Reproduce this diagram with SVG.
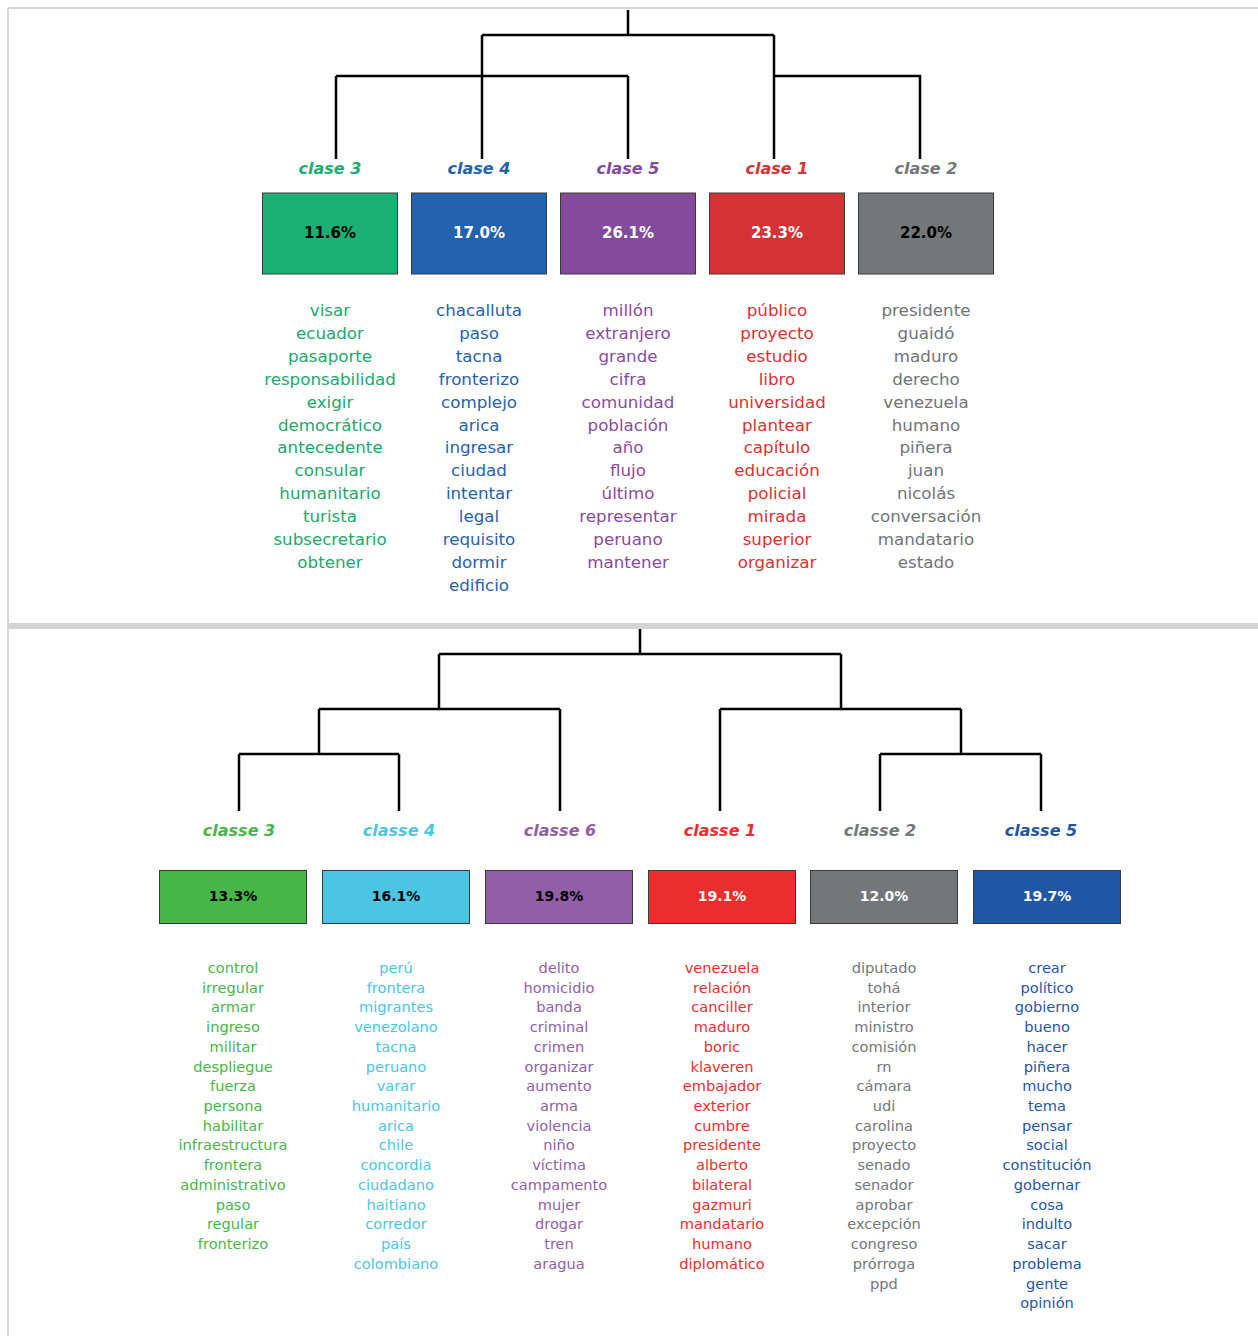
<svg xmlns="http://www.w3.org/2000/svg" width="1258" height="1336" viewBox="0 0 1258 1336">
<style>
.lbl{font-family:"DejaVu Sans",sans-serif;font-weight:bold;font-style:italic;font-size:16px;text-anchor:middle}
.pct{font-family:"DejaVu Sans",sans-serif;font-weight:bold;text-anchor:middle}
.pt{font-size:15px}
.pb{font-size:14px}
.w1{font-family:"DejaVu Sans",sans-serif;font-size:16.7px;text-anchor:middle}
.w2{font-family:"DejaVu Sans",sans-serif;font-size:14.6px;text-anchor:middle}
.box{stroke:#3a3a3a;stroke-width:1}
.con{fill:none;stroke:#000;stroke-width:2.5}
</style>
<rect x="0" y="0" width="1258" height="1336" fill="#fff"/>
<g id="frame">
<line x1="8" y1="8" x2="1258" y2="8" stroke="#c8c8c8" stroke-width="1.5"/>
<line x1="8" y1="8" x2="8" y2="1336" stroke="#c8c8c8" stroke-width="1.5"/>
<rect x="8" y="623" width="1250" height="6" fill="#d4d4d6"/>
</g>
<g id="connectors">
<path class="con" d="M628 10V35M482 35H774M482 35V159M774 35V159M336 76H628M336 76V159M628 76V159M774 76H920V159"/>
<path class="con" d="M640 629V654M439 654H841M439 654V709M841 654V709M319 709H560M319 709V754M560 709V811M239 754H399M239 754V811M399 754V811M720 709H961M720 709V811M961 709V754M880 754H1041M880 754V811M1041 754V811"/>
</g>
<g id="top-c3">
<text class="lbl" x="330" y="174" fill="#1aaf72">clase 3</text>
<rect class="box" x="262.5" y="193" width="135" height="81" fill="#1bb174"/>
<text class="pct pt" x="330" y="238" fill="#000">11.6%</text>
<text class="w1" fill="#1ba86c"><tspan x="330" y="316">visar</tspan><tspan x="330" dy="22.9">ecuador</tspan><tspan x="330" dy="22.9">pasaporte</tspan><tspan x="330" dy="22.9">responsabilidad</tspan><tspan x="330" dy="22.9">exigir</tspan><tspan x="330" dy="22.9">democrático</tspan><tspan x="330" dy="22.9">antecedente</tspan><tspan x="330" dy="22.9">consular</tspan><tspan x="330" dy="22.9">humanitario</tspan><tspan x="330" dy="22.9">turista</tspan><tspan x="330" dy="22.9">subsecretario</tspan><tspan x="330" dy="22.9">obtener</tspan></text>
</g>
<g id="top-c4">
<text class="lbl" x="479" y="174" fill="#2362ae">clase 4</text>
<rect class="box" x="411.5" y="193" width="135" height="81" fill="#2362ae"/>
<text class="pct pt" x="479" y="238" fill="#fff">17.0%</text>
<text class="w1" fill="#2462ae"><tspan x="479" y="316">chacalluta</tspan><tspan x="479" dy="22.9">paso</tspan><tspan x="479" dy="22.9">tacna</tspan><tspan x="479" dy="22.9">fronterizo</tspan><tspan x="479" dy="22.9">complejo</tspan><tspan x="479" dy="22.9">arica</tspan><tspan x="479" dy="22.9">ingresar</tspan><tspan x="479" dy="22.9">ciudad</tspan><tspan x="479" dy="22.9">intentar</tspan><tspan x="479" dy="22.9">legal</tspan><tspan x="479" dy="22.9">requisito</tspan><tspan x="479" dy="22.9">dormir</tspan><tspan x="479" dy="22.9">edificio</tspan></text>
</g>
<g id="top-c5">
<text class="lbl" x="628" y="174" fill="#844a9c">clase 5</text>
<rect class="box" x="560.5" y="193" width="135" height="81" fill="#844a9c"/>
<text class="pct pt" x="628" y="238" fill="#fff">26.1%</text>
<text class="w1" fill="#8a4a9e"><tspan x="628" y="316">millón</tspan><tspan x="628" dy="22.9">extranjero</tspan><tspan x="628" dy="22.9">grande</tspan><tspan x="628" dy="22.9">cifra</tspan><tspan x="628" dy="22.9">comunidad</tspan><tspan x="628" dy="22.9">población</tspan><tspan x="628" dy="22.9">año</tspan><tspan x="628" dy="22.9">flujo</tspan><tspan x="628" dy="22.9">último</tspan><tspan x="628" dy="22.9">representar</tspan><tspan x="628" dy="22.9">peruano</tspan><tspan x="628" dy="22.9">mantener</tspan></text>
</g>
<g id="top-c1">
<text class="lbl" x="777" y="174" fill="#d63134">clase 1</text>
<rect class="box" x="709.5" y="193" width="135" height="81" fill="#d63134"/>
<text class="pct pt" x="777" y="238" fill="#fff">23.3%</text>
<text class="w1" fill="#dc2f33"><tspan x="777" y="316">público</tspan><tspan x="777" dy="22.9">proyecto</tspan><tspan x="777" dy="22.9">estudio</tspan><tspan x="777" dy="22.9">libro</tspan><tspan x="777" dy="22.9">universidad</tspan><tspan x="777" dy="22.9">plantear</tspan><tspan x="777" dy="22.9">capítulo</tspan><tspan x="777" dy="22.9">educación</tspan><tspan x="777" dy="22.9">policial</tspan><tspan x="777" dy="22.9">mirada</tspan><tspan x="777" dy="22.9">superior</tspan><tspan x="777" dy="22.9">organizar</tspan></text>
</g>
<g id="top-c2">
<text class="lbl" x="926" y="174" fill="#737779">clase 2</text>
<rect class="box" x="858.5" y="193" width="135" height="81" fill="#737779"/>
<text class="pct pt" x="926" y="238" fill="#000">22.0%</text>
<text class="w1" fill="#707477"><tspan x="926" y="316">presidente</tspan><tspan x="926" dy="22.9">guaidó</tspan><tspan x="926" dy="22.9">maduro</tspan><tspan x="926" dy="22.9">derecho</tspan><tspan x="926" dy="22.9">venezuela</tspan><tspan x="926" dy="22.9">humano</tspan><tspan x="926" dy="22.9">piñera</tspan><tspan x="926" dy="22.9">juan</tspan><tspan x="926" dy="22.9">nicolás</tspan><tspan x="926" dy="22.9">conversación</tspan><tspan x="926" dy="22.9">mandatario</tspan><tspan x="926" dy="22.9">estado</tspan></text>
</g>
<g id="bot-c3">
<text class="lbl" x="239" y="836" fill="#47b649">classe 3</text>
<rect class="box" x="159.5" y="870.5" width="147" height="53" fill="#47b649"/>
<text class="pct pb" x="233" y="901" fill="#000">13.3%</text>
<text class="w2" fill="#47b649"><tspan x="233" y="973">control</tspan><tspan x="233" dy="19.72">irregular</tspan><tspan x="233" dy="19.72">armar</tspan><tspan x="233" dy="19.72">ingreso</tspan><tspan x="233" dy="19.72">militar</tspan><tspan x="233" dy="19.72">despliegue</tspan><tspan x="233" dy="19.72">fuerza</tspan><tspan x="233" dy="19.72">persona</tspan><tspan x="233" dy="19.72">habilitar</tspan><tspan x="233" dy="19.72">infraestructura</tspan><tspan x="233" dy="19.72">frontera</tspan><tspan x="233" dy="19.72">administrativo</tspan><tspan x="233" dy="19.72">paso</tspan><tspan x="233" dy="19.72">regular</tspan><tspan x="233" dy="19.72">fronterizo</tspan></text>
</g>
<g id="bot-c4">
<text class="lbl" x="399" y="836" fill="#4bc6e2">classe 4</text>
<rect class="box" x="322.5" y="870.5" width="147" height="53" fill="#4bc6e2"/>
<text class="pct pb" x="396" y="901" fill="#000">16.1%</text>
<text class="w2" fill="#4bc6e2"><tspan x="396" y="973">perú</tspan><tspan x="396" dy="19.72">frontera</tspan><tspan x="396" dy="19.72">migrantes</tspan><tspan x="396" dy="19.72">venezolano</tspan><tspan x="396" dy="19.72">tacna</tspan><tspan x="396" dy="19.72">peruano</tspan><tspan x="396" dy="19.72">varar</tspan><tspan x="396" dy="19.72">humanitario</tspan><tspan x="396" dy="19.72">arica</tspan><tspan x="396" dy="19.72">chile</tspan><tspan x="396" dy="19.72">concordia</tspan><tspan x="396" dy="19.72">ciudadano</tspan><tspan x="396" dy="19.72">haitiano</tspan><tspan x="396" dy="19.72">corredor</tspan><tspan x="396" dy="19.72">país</tspan><tspan x="396" dy="19.72">colombiano</tspan></text>
</g>
<g id="bot-c6">
<text class="lbl" x="560" y="836" fill="#925ea8">classe 6</text>
<rect class="box" x="485.5" y="870.5" width="147" height="53" fill="#925ea8"/>
<text class="pct pb" x="559" y="901" fill="#000">19.8%</text>
<text class="w2" fill="#925ea8"><tspan x="559" y="973">delito</tspan><tspan x="559" dy="19.72">homicidio</tspan><tspan x="559" dy="19.72">banda</tspan><tspan x="559" dy="19.72">criminal</tspan><tspan x="559" dy="19.72">crimen</tspan><tspan x="559" dy="19.72">organizar</tspan><tspan x="559" dy="19.72">aumento</tspan><tspan x="559" dy="19.72">arma</tspan><tspan x="559" dy="19.72">violencia</tspan><tspan x="559" dy="19.72">niño</tspan><tspan x="559" dy="19.72">víctima</tspan><tspan x="559" dy="19.72">campamento</tspan><tspan x="559" dy="19.72">mujer</tspan><tspan x="559" dy="19.72">drogar</tspan><tspan x="559" dy="19.72">tren</tspan><tspan x="559" dy="19.72">aragua</tspan></text>
</g>
<g id="bot-c1">
<text class="lbl" x="720" y="836" fill="#ec2d2d">classe 1</text>
<rect class="box" x="648.5" y="870.5" width="147" height="53" fill="#ec2d2d"/>
<text class="pct pb" x="722" y="901" fill="#fff">19.1%</text>
<text class="w2" fill="#ec2d2d"><tspan x="722" y="973">venezuela</tspan><tspan x="722" dy="19.72">relación</tspan><tspan x="722" dy="19.72">canciller</tspan><tspan x="722" dy="19.72">maduro</tspan><tspan x="722" dy="19.72">boric</tspan><tspan x="722" dy="19.72">klaveren</tspan><tspan x="722" dy="19.72">embajador</tspan><tspan x="722" dy="19.72">exterior</tspan><tspan x="722" dy="19.72">cumbre</tspan><tspan x="722" dy="19.72">presidente</tspan><tspan x="722" dy="19.72">alberto</tspan><tspan x="722" dy="19.72">bilateral</tspan><tspan x="722" dy="19.72">gazmuri</tspan><tspan x="722" dy="19.72">mandatario</tspan><tspan x="722" dy="19.72">humano</tspan><tspan x="722" dy="19.72">diplomático</tspan></text>
</g>
<g id="bot-c2">
<text class="lbl" x="880" y="836" fill="#747779">classe 2</text>
<rect class="box" x="810.5" y="870.5" width="147" height="53" fill="#747779"/>
<text class="pct pb" x="884" y="901" fill="#fff">12.0%</text>
<text class="w2" fill="#747779"><tspan x="884" y="973">diputado</tspan><tspan x="884" dy="19.72">tohá</tspan><tspan x="884" dy="19.72">interior</tspan><tspan x="884" dy="19.72">ministro</tspan><tspan x="884" dy="19.72">comisión</tspan><tspan x="884" dy="19.72">rn</tspan><tspan x="884" dy="19.72">cámara</tspan><tspan x="884" dy="19.72">udi</tspan><tspan x="884" dy="19.72">carolina</tspan><tspan x="884" dy="19.72">proyecto</tspan><tspan x="884" dy="19.72">senado</tspan><tspan x="884" dy="19.72">senador</tspan><tspan x="884" dy="19.72">aprobar</tspan><tspan x="884" dy="19.72">excepción</tspan><tspan x="884" dy="19.72">congreso</tspan><tspan x="884" dy="19.72">prórroga</tspan><tspan x="884" dy="19.72">ppd</tspan></text>
</g>
<g id="bot-c5">
<text class="lbl" x="1041" y="836" fill="#1f56a5">classe 5</text>
<rect class="box" x="973.5" y="870.5" width="147" height="53" fill="#1f56a5"/>
<text class="pct pb" x="1047" y="901" fill="#fff">19.7%</text>
<text class="w2" fill="#1f56a5"><tspan x="1047" y="973">crear</tspan><tspan x="1047" dy="19.72">político</tspan><tspan x="1047" dy="19.72">gobierno</tspan><tspan x="1047" dy="19.72">bueno</tspan><tspan x="1047" dy="19.72">hacer</tspan><tspan x="1047" dy="19.72">piñera</tspan><tspan x="1047" dy="19.72">mucho</tspan><tspan x="1047" dy="19.72">tema</tspan><tspan x="1047" dy="19.72">pensar</tspan><tspan x="1047" dy="19.72">social</tspan><tspan x="1047" dy="19.72">constitución</tspan><tspan x="1047" dy="19.72">gobernar</tspan><tspan x="1047" dy="19.72">cosa</tspan><tspan x="1047" dy="19.72">indulto</tspan><tspan x="1047" dy="19.72">sacar</tspan><tspan x="1047" dy="19.72">problema</tspan><tspan x="1047" dy="19.72">gente</tspan><tspan x="1047" dy="19.72">opinión</tspan></text>
</g>
</svg>
